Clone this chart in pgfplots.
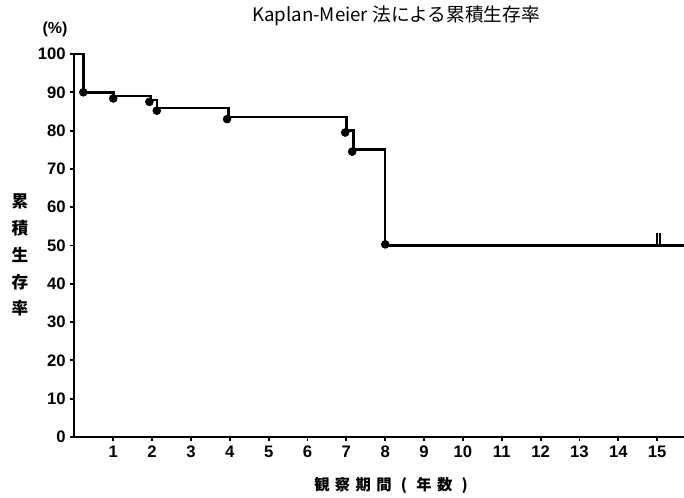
\documentclass[border=0pt]{standalone}
\usepackage{fontspec}
\setmainfont{Liberation Sans}
\newfontfamily\jp{Noto Sans CJK JP}
\usepackage{pgfplots}
\pgfplotsset{compat=1.18}
\begin{document}
\begin{tikzpicture}
\useasboundingbox (-55.8pt,-45.75pt) rectangle (457.2pt,327.75pt);
\begin{axis}[
  at={(0,0)}, anchor=south west,
  scale only axis, width=457.2pt, height=287.25pt,
  xmin=0, xmax=15.69, ymin=0, ymax=100,
  axis lines*=left,
  axis line style={line width=1.6pt, -},
  xtick={1,...,15}, ytick={0,10,...,100},
  tick align=outside, major tick length=3pt,
  tick style={line width=1.4pt, black},
  /pgf/number format/assume math mode=true,
  ticklabel style={font=\fontsize{12.5}{13}\selectfont\bfseries},
  clip=false,
]
\addplot[const plot, line width=1.9pt, black] coordinates {
  (0,100) (0.23,90) (1.0,89) (1.97,88) (2.12,85.9) (3.96,83.5)
  (7.0,80) (7.18,75) (8.0,50) (15.69,50)
};
\addplot[only marks, mark=*, mark size=3pt, black] coordinates {
  (0.23,90) (1.0,88.4) (1.93,87.5) (2.12,85.2) (3.93,83.0)
  (6.97,79.5) (7.15,74.5) (8.0,50.3)
};
\addplot[line width=1.4pt, black] coordinates {(14.99,50) (14.99,53.2)};
\addplot[line width=1.4pt, black] coordinates {(15.08,50) (15.08,53.2)};
\end{axis}
\node[font=\jp\fontsize{14}{15}\selectfont] at (241.2pt,315.75pt) {Kaplan-Meier 法による累積生存率};
\node[font=\fontsize{12}{13}\selectfont\bfseries] at (-14.55pt,306pt) {(\%)};
\foreach \yy/\ch in {176.5/累,156.75/積,136.5/生,116.5/存,96.75/率}
  \node[font=\jp\bfseries\fontsize{12.5}{13}\selectfont] at (-40.8pt,\yy pt) {\ch};
\node[font=\jp\bfseries\fontsize{11.5}{12}\selectfont] at (237.5pt,-36pt)
  {観\kern4pt 察\kern4pt 期\kern4pt 間\kern7pt (\kern7pt 年\kern4pt 数\kern7pt )};
\end{tikzpicture}
\end{document}
